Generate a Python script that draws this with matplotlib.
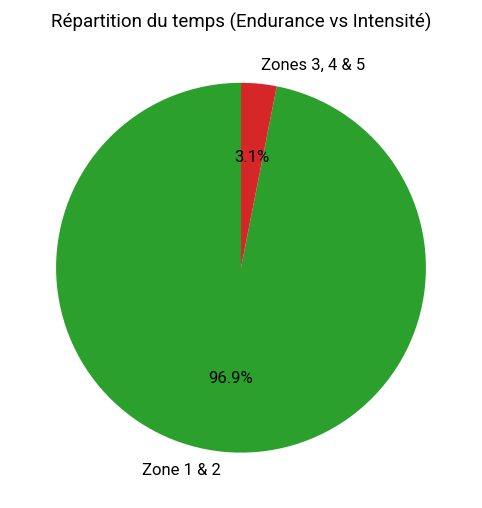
import matplotlib.pyplot as plt

labels = ['Zone 1 & 2', 'Zones 3, 4 & 5']
values = [96.9, 3.1]
colors = ['#2ca02c', '#d62728']

plt.rcParams['font.family'] = ['Roboto', 'DejaVu Sans']

fig = plt.figure(figsize=(4.82, 5.08), dpi=100)
ax = fig.add_axes([0.02, 0.018, 0.96, 0.91])
ax.pie(values, labels=labels, colors=colors, autopct='%1.1f%%',
       startangle=90, textprops={'fontsize': 12})
ax.set_aspect('equal')
fig.suptitle('Répartition du temps (Endurance vs Intensité)', fontsize=13.5, y=0.975)

fig.savefig('out.png', dpi=100)
